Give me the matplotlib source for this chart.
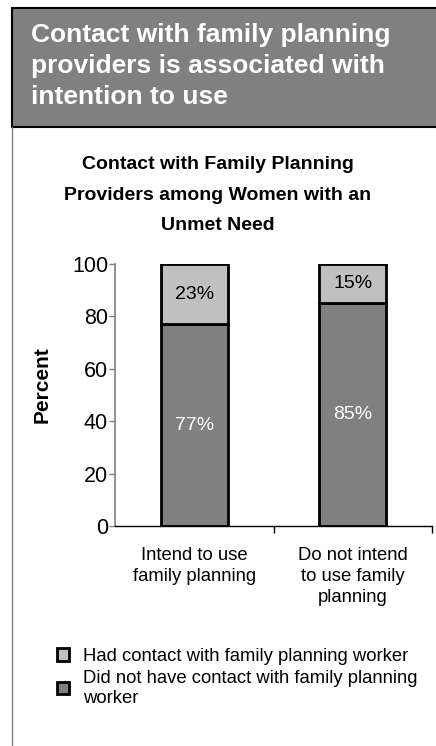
import matplotlib.pyplot as plt
from matplotlib.patches import Rectangle

plt.rcParams['font.family'] = ['Liberation Sans', 'DejaVu Sans']

categories = ['Intend to use\nfamily planning', 'Do not intend\nto use family\nplanning']
no_contact = [77, 85]
had_contact = [23, 15]
series_labels = ['Had contact with family planning worker',
                 'Did not have contact with family planning\nworker']

light = '#C0C0C0'
dark = '#808080'

fig = plt.figure(figsize=(4.36, 7.46), dpi=100)
W, H = 436, 746

def fx(px):
    return px / W

def fy(py):
    return 1 - py / H

# header banner
fig.patches.append(Rectangle((fx(12), fy(127)), 1.0, (127 - 8) / H,
                             transform=fig.transFigure, facecolor=dark,
                             edgecolor='black', linewidth=1.5, zorder=0))
fig.text(fx(31), fy(66), 'Contact with family planning\nproviders is associated with\nintention to use',
         color='white', fontsize=19, fontweight='bold', ha='left', va='center',
         linespacing=1.36)

# left panel border
fig.lines.append(plt.Line2D([fx(12), fx(12)], [fy(127), 0], transform=fig.transFigure,
                            color='#808080', linewidth=1))

# chart title
fig.text(fx(218), fy(195), 'Contact with Family Planning\nProviders among Women with an\nUnmet Need',
         fontsize=14, fontweight='bold', ha='center', va='center', linespacing=2.02)

ax = fig.add_axes([fx(115), fy(526), fx(432) - fx(115), (526 - 264) / H])
x = range(len(categories))
ax.bar(x, no_contact, width=0.42, color=dark, edgecolor='black', linewidth=2, zorder=2)
ax.bar(x, had_contact, width=0.42, bottom=no_contact, color=light,
       edgecolor='black', linewidth=2, zorder=2)

for i in x:
    ax.text(i, no_contact[i] / 2, f'{no_contact[i]}%', ha='center', va='center',
            color='white', fontsize=14)
    ax.text(i, no_contact[i] + had_contact[i] / 2, f'{had_contact[i]}%', ha='center',
            va='center', color='black', fontsize=14)

ax.set_xlim(-0.5, 1.5)
ax.set_ylim(0, 100)
ax.set_yticks([0, 20, 40, 60, 80, 100])
ax.tick_params(axis='y', labelsize=15.5, length=4, width=1, color='#808080', pad=1)
ax.set_xticks([0, 1])
ax.set_xticklabels(categories, fontsize=13.3, linespacing=1.3)
ax.tick_params(axis='x', length=0, pad=15)
ax.set_xticks([0.5, 1.5], minor=True)
ax.tick_params(axis='x', which='minor', length=5, width=1, color='black')
for s in ['top', 'right']:
    ax.spines[s].set_visible(False)
ax.spines['left'].set_color('#808080')
ax.spines['left'].set_linewidth(1.2)
ax.spines['bottom'].set_color('black')
ax.spines['bottom'].set_linewidth(1)
ax.set_ylabel('Percent', fontsize=15, fontweight='bold')
ax.yaxis.set_label_coords(-0.2, 0.54)
ax.patch.set_alpha(0)

# legend
handles = [Rectangle((0, 0), 1, 1, facecolor=light, edgecolor='black', linewidth=2),
           Rectangle((0, 0), 1, 1, facecolor=dark, edgecolor='black', linewidth=2)]
fig.legend(handles, series_labels, loc='upper left', bbox_to_anchor=(fx(57), fy(648)),
           frameon=False, fontsize=13.3, handlelength=0.65, handleheight=0.65,
           handletextpad=0.75, labelspacing=0.25, borderaxespad=0, borderpad=0)
for t in fig.legends[0].get_texts():
    t.set_linespacing(1.25)

fig.savefig('out.png', dpi=100, facecolor='white')
